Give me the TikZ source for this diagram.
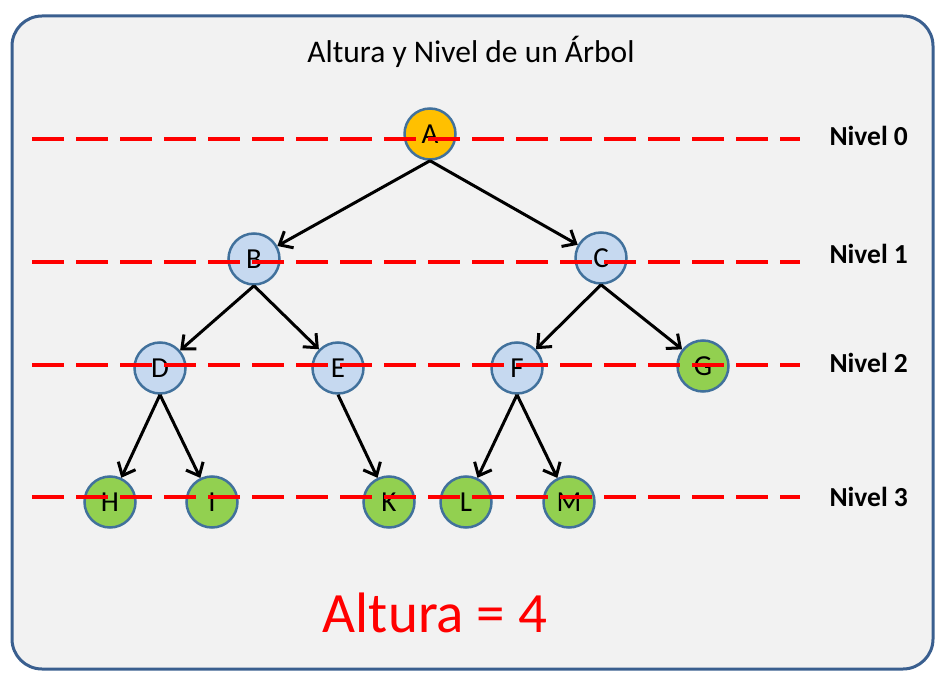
\documentclass[tikz,border=0pt]{standalone}
\usepackage{fontspec}
\setmainfont{Carlito}
\usepackage{xcolor}
\usetikzlibrary{arrows.meta}

\definecolor{marco}{HTML}{3A5F8F}
\definecolor{fondo}{HTML}{F2F2F2}
\definecolor{borde}{HTML}{41719C}
\definecolor{oro}{HTML}{FFC000}
\definecolor{celeste}{HTML}{C6D9F0}
\definecolor{verde}{HTML}{92D050}

\tikzset{
  nodo/.style={circle, draw=borde, line width=2.5pt, minimum size=51pt, inner sep=0pt,
    font=\fontsize{29}{30}\selectfont},
  raiz/.style={nodo, fill=oro},
  interno/.style={nodo, fill=celeste},
  hoja/.style={nodo, fill=verde},
  flecha/.style={line width=3pt, -{Straight Barb[length=11pt,width=19pt,line width=3pt]}},
  nivel/.style={red, line width=4pt, dash pattern=on 32pt off 12pt},
  etiqueta/.style={anchor=base west, font=\fontsize{27.5}{30}\selectfont\bfseries}
}

\begin{document}
\begin{tikzpicture}[x=1pt, y=-1pt]
\useasboundingbox (0,0) rectangle (952,684);
\draw[marco, line width=3pt, fill=fondo, rounded corners=30pt] (12,16) rectangle (933,669);

\node[anchor=base] (titulo) at (471,63) {\fontsize{31.5}{36}\selectfont Altura y Nivel de un Árbol};

% arbol
\node[raiz] (A) at (430,134) {A};
\node[interno] (B) at (254,259) {B};
\node[interno] (C) at (601,258) {C};
\node[interno] (D) at (160,368) {D};
\node[interno] (E) at (338,368) {E};
\node[interno] (F) at (517,368) {F};
\node[hoja] (G) at (703,366) {G};
\node[hoja] (H) at (110,502) {H};
\node[hoja] (I) at (212,502) {I};
\node[hoja] (K) at (389,502) {K};
\node[hoja] (L) at (466,502) {L};
\node[hoja] (M) at (569,502) {M};

\draw[flecha] (A.south) -- (B);
\draw[flecha] (A.south) -- (C);
\draw[flecha] (B.south) -- (D);
\draw[flecha] (B.south) -- (E);
\draw[flecha] (C.south) -- (F);
\draw[flecha] (C.south) -- (G);
\draw[flecha] (D.south) -- (H);
\draw[flecha] (D.south) -- (I);
\draw[flecha] (E.south) -- (K);
\draw[flecha] (F.south) -- (L);
\draw[flecha] (F.south) -- (M);

% niveles
\draw[nivel] (32,139) -- (800,139);
\draw[nivel] (32,262) -- (800,262);
\draw[nivel] (32,365) -- (800,365);
\draw[nivel] (32,497) -- (800,497);

\node[etiqueta] (n0) at (826,146) {Nivel 0};
\node[etiqueta] (n1) at (826,264) {Nivel 1};
\node[etiqueta] (n2) at (826,372) {Nivel 2};
\node[etiqueta] (n3) at (826,506) {Nivel 3};

\node[anchor=base, red] (altura) at (435,632) {\fontsize{57}{60}\selectfont Altura = 4};
\end{tikzpicture}
\end{document}
